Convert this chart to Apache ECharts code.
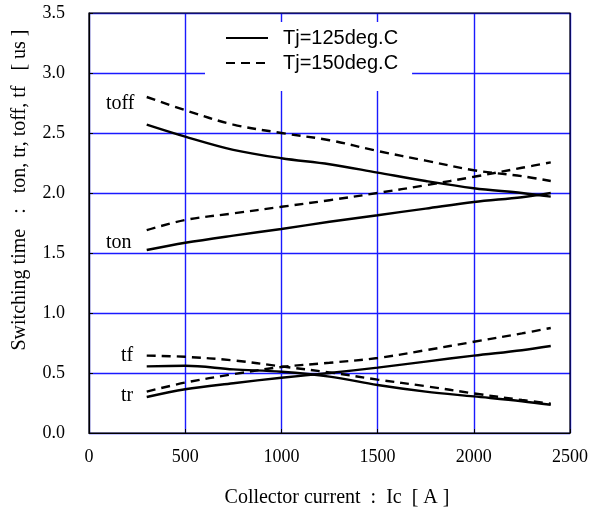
<!DOCTYPE html>
<html>
<head>
<meta charset="utf-8">
<script src="https://cdn.jsdelivr.net/npm/echarts@6/dist/echarts.min.js"></script>
<style>html,body{margin:0;padding:0;background:#fff}#c{width:591px;height:514px}</style>
</head>
<body>
<div id="c"></div>
<script>
const ic = [300, 500, 750, 1000, 1250, 1500, 1750, 2000, 2250, 2400];
const toff125 = [2.57, 2.47, 2.36, 2.29, 2.24, 2.17, 2.10, 2.04, 2.00, 1.97];
const toff150 = [2.80, 2.69, 2.57, 2.50, 2.44, 2.35, 2.27, 2.19, 2.14, 2.10];
const ton125  = [1.525, 1.585, 1.645, 1.70, 1.76, 1.815, 1.87, 1.925, 1.965, 2.00];
const ton150  = [1.69, 1.775, 1.83, 1.885, 1.94, 2.00, 2.065, 2.135, 2.21, 2.255];
const tf125   = [0.555, 0.56, 0.53, 0.51, 0.47, 0.40, 0.345, 0.305, 0.265, 0.235];
const tf150   = [0.645, 0.635, 0.605, 0.555, 0.505, 0.445, 0.39, 0.33, 0.275, 0.245];
const tr125   = [0.30, 0.365, 0.415, 0.46, 0.50, 0.545, 0.595, 0.645, 0.69, 0.725];
const tr150   = [0.345, 0.42, 0.49, 0.55, 0.585, 0.625, 0.69, 0.76, 0.83, 0.875];
const xTicks = [0, 500, 1000, 1500, 2000, 2500];
const yTicks = [0, 0.5, 1.0, 1.5, 2.0, 2.5, 3.0, 3.5];
const name125 = 'Tj=125deg.C';
const name150 = 'Tj=150deg.C';

const pts = arr => ic.map((x, i) => [x, arr[i]]);
const solid = {color: '#000', width: 2.4, type: 'solid'};
const dashed = {color: '#000', width: 2.4, type: [9, 6]};
const mk = (name, arr, ls) => ({
  name, type: 'line', data: pts(arr), smooth: 0.35, symbol: 'none', showSymbol: false,
  lineStyle: ls, itemStyle: {color: '#000'}, z: 5
});

const chart = echarts.init(document.getElementById('c'));
const serif = 'Liberation Serif';
const gridLine = {show: true, lineStyle: {color: '#1a1aff', width: 1.4, opacity: 1}};
chart.setOption({
  animation: false,
  backgroundColor: '#fff',
  grid: {left: 89, right: 20, top: 13, bottom: 81, show: true, borderColor: '#000', borderWidth: 1.2, z: 3},
  xAxis: {
    type: 'value', min: xTicks[0], max: xTicks[xTicks.length - 1], interval: 500,
    axisLine: {show: true, lineStyle: {color: '#000', width: 1.2}},
    axisTick: {show: true, inside: true, length: 4, lineStyle: {color: '#000'}},
    splitLine: gridLine,
    axisLabel: {fontFamily: serif, fontSize: 18, color: '#000', margin: 15, formatter: v => String(v)}
  },
  yAxis: {
    type: 'value', min: yTicks[0], max: yTicks[yTicks.length - 1], interval: 0.5,
    axisLine: {show: true, lineStyle: {color: '#000', width: 1.2}},
    axisTick: {show: true, inside: true, length: 4, lineStyle: {color: '#000'}},
    splitLine: gridLine,
    axisLabel: {fontFamily: serif, fontSize: 18, color: '#000', margin: 24, formatter: v => v.toFixed(1)}
  },
  legend: {
    data: [name125, name150],
    orient: 'vertical', left: 205, top: 22,
    backgroundColor: '#fff',
    padding: [6, 14, 18, 20],
    itemWidth: 42, itemHeight: 18, itemGap: 5,
    itemStyle: {opacity: 0},
    textStyle: {fontFamily: 'Liberation Sans', fontSize: 20, color: '#000', padding: [0, 0, 0, 10]},
    z: 10
  },
  series: [
    mk(name125, toff125, solid), mk(name150, toff150, dashed),
    mk(name125, ton125, solid), mk(name150, ton150, dashed),
    mk(name125, tf125, solid), mk(name150, tf150, dashed),
    mk(name125, tr125, solid), mk(name150, tr150, dashed)
  ],
  graphic: [
    {type: 'text', left: 106, top: 94, style: {text: 'toff', font: '20px "Liberation Serif"', fill: '#000'}},
    {type: 'text', left: 106, top: 233, style: {text: 'ton', font: '20px "Liberation Serif"', fill: '#000'}},
    {type: 'text', left: 121, top: 346, style: {text: 'tf', font: '20px "Liberation Serif"', fill: '#000'}},
    {type: 'text', left: 121, top: 386, style: {text: 'tr', font: '20px "Liberation Serif"', fill: '#000'}},
    {type: 'text', x: 20, y: 190, rotation: Math.PI / 2,
     style: {text: 'Switching time   :   ton, tr, toff, tf   [ us ]', font: '20px "Liberation Serif"', fill: '#000', align: 'center', verticalAlign: 'middle'}},
    {type: 'text', x: 337, y: 498,
     style: {text: 'Collector current  :  Ic  [ A ]', font: '20px "Liberation Serif"', fill: '#000', align: 'center', verticalAlign: 'middle'}}
  ]
});
</script>
</body>
</html>
